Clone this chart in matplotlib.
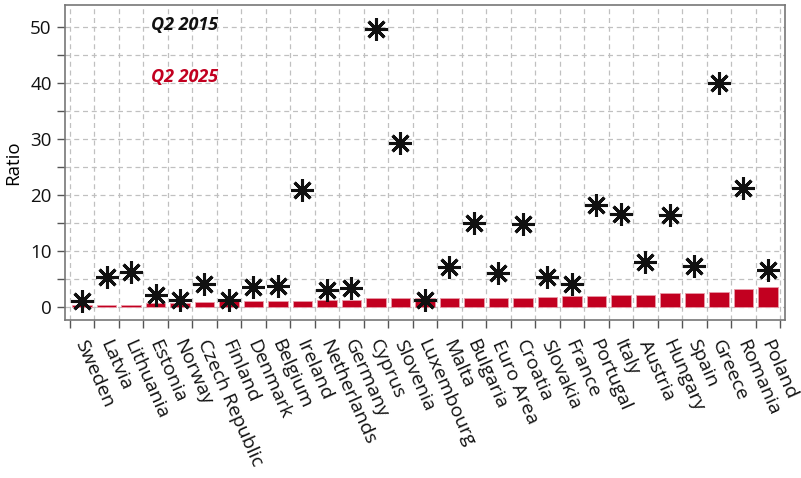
import matplotlib.pyplot as plt
import numpy as np
from matplotlib.ticker import MultipleLocator, FixedLocator

# countries in the order shown
countries = ['Sweden', 'Latvia', 'Lithuania', 'Estonia', 'Norway', 'Czech Republic',
             'Finland', 'Denmark', 'Belgium', 'Ireland', 'Netherlands', 'Germany',
             'Cyprus', 'Slovenia', 'Luxembourg', 'Malta', 'Bulgaria', 'Euro Area',
             'Croatia', 'Slovakia', 'France', 'Portugal', 'Italy', 'Austria',
             'Hungary', 'Spain', 'Greece', 'Romania', 'Poland']

# Q2 2025 (bars)
q2_2025 = [0.3, 0.3, 0.3, 0.65, 0.65, 0.9, 1.1, 1.1, 1.1, 1.1, 1.2, 1.3,
           1.5, 1.5, 1.5, 1.6, 1.6, 1.6, 1.65, 1.75, 2.0, 2.0, 2.1, 2.2,
           2.4, 2.4, 2.6, 3.2, 3.5]

# Q2 2015 (asterisks)
q2_2015 = [1.0, 5.4, 6.2, 2.1, 1.2, 4.1, 1.3, 3.6, 3.8, 20.8, 3.1, 3.4,
           49.6, 29.2, 1.2, 7.2, 15.0, 6.0, 14.7, 5.3, 4.1, 18.2, 16.6, 8.0,
           16.4, 7.3, 40.0, 21.2, 6.6]

red = '#c20020'
fam = ['Open Sans', 'DejaVu Sans']

fig = plt.figure(figsize=(8.01, 4.78), dpi=100)
ax = fig.add_axes([0.081, 0.331, 0.899, 0.659])

x = np.arange(len(countries))
ax.bar(x, q2_2025, width=0.8, color=red, edgecolor='#e89aa8', linewidth=0.6, zorder=2)
ax.plot(x, q2_2015, linestyle='none', marker=(8, 2, 0), markersize=16,
        markeredgewidth=2.2, color='#111111', zorder=3)

ax.set_xlim(-0.7, len(countries) - 0.3)
ax.set_ylim(-2.3, 53.9)

# grid lines at category boundaries and every 5 on y
ax.xaxis.set_major_locator(FixedLocator(np.arange(-0.5, len(countries) - 0.4, 1)))
ax.set_xticklabels([])
ax.yaxis.set_major_locator(MultipleLocator(10))
ax.yaxis.set_minor_locator(MultipleLocator(5))
ax.grid(True, which='both', linestyle=(0, (4, 3)), color='#c0c0c0', linewidth=0.9, zorder=0)
ax.set_axisbelow(True)

for i, name in enumerate(countries):
    ax.text(i + 0.25, -5.4, name, rotation=-66, ha='left', va='top', rotation_mode='anchor',
            fontsize=14, family=fam, color='#111111')

ax.tick_params(axis='x', length=6, width=1, color='#555555')
ax.tick_params(axis='y', which='major', length=6, width=1, color='#555555',
               labelsize=13.5, labelcolor='#111111')
ax.tick_params(axis='y', which='minor', length=6, width=1, color='#555555')
for lbl in ax.get_yticklabels():
    lbl.set_family(fam)

for s in ax.spines.values():
    s.set_color('#777777')
    s.set_linewidth(1.2)

ax.set_ylabel('Ratio', fontsize=13.5, family=fam, labelpad=6)

ax.text(2.8, 50.3, 'Q2 2015', fontsize=13, style='italic', weight='bold',
        family=fam, color='#111111', va='center', ha='left')
ax.text(2.8, 41.0, 'Q2 2025', fontsize=13, style='italic', weight='bold',
        family=fam, color=red, va='center', ha='left')

fig.savefig('out.png', dpi=100)
